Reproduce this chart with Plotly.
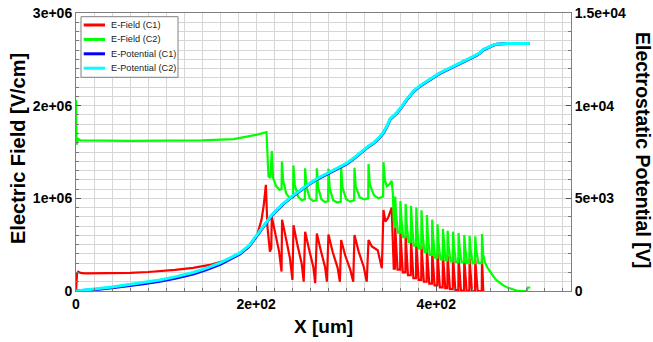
import plotly.graph_objects as go

# ---------------- data ----------------
EFIELD_C1 = [  # (X [um], E [V/cm])
    (0, 0), (1.2, 1.9e5), (2.5, 2.08e5), (5, 1.95e5), (10, 1.9e5), (20, 1.9e5), (40, 1.92e5),
    (60, 1.96e5), (80, 2.05e5), (93, 2.12e5), (110, 2.28e5), (130, 2.5e5), (150, 2.85e5),
    (165, 3.25e5), (178, 3.8e5), (190, 4.6e5), (201, 6.0e5), (206, 7.7e5), (208.5, 9.3e5),
    (210.8, 1.146e6), (212.5, 7.0e5), (215.3, 4.25e5), (216.8, 4.6e5), (217.4, 8.0e5),
    (220.5, 6.4e5), (225.5, 4.25e5), (228.2, 2.1e5), (228.8, 7.7e5), (233.5, 5.5e5),
    (237.5, 3.55e5), (240.3, 1.2e5), (241.5, 7.1e5), (246, 4.9e5), (250.5, 3.0e5),
    (252.8, 1.0e5), (254.4, 6.4e5), (259, 4.4e5), (263.5, 2.6e5), (265.6, 8.5e4),
    (267.4, 6.2e5), (272, 4.3e5), (276.5, 2.6e5), (278.6, 1.0e5), (280.3, 6.1e5),
    (285, 4.2e5), (290.5, 2.5e5), (293.0, 1.0e5), (294.4, 5.5e5), (299, 3.8e5),
    (304.5, 2.3e5), (307.8, 1.0e5), (309.2, 6.05e5), (314, 4.2e5), (319.5, 2.6e5),
    (322.8, 1.0e5), (324.8, 5.5e5), (328.5, 4.8e5), (335, 4.4e5), (339.6, 2.45e5),
    (341.4, 8.75e5), (343.5, 7.5e5), (346.5, 7.9e5), (350.5, 9.0e5), (352.0, 4.5e5),
    (352.8, 2.4e5), (354.1, 2.4e5),
    (354.4, 7.0e5), (357.0, 2.3e5), (359.9, 2.3e5),
    (360.2, 6.4e5), (362.8, 2.0e5), (365.7, 2.0e5),
    (366.0, 6.0e5), (368.6, 1.7e5), (371.7, 1.7e5),
    (372.0, 5.6e5), (374.6, 1.4e5), (377.5, 1.4e5),
    (377.8, 5.2e5), (380.4, 1.2e5), (383.3, 1.2e5),
    (383.6, 4.9e5), (386.2, 1.0e5), (389.3, 1.0e5),
    (389.6, 4.6e5), (392.2, 8e4), (395.2, 8e4),
    (395.5, 4.3e5), (398.1, 6e4), (401.1, 6e4),
    (401.4, 4.1e5), (404.0, 4e4), (407.1, 4e4),
    (407.4, 3.9e5), (410.0, 3e4), (412.3, 3e4),
    (412.6, 3.8e5), (415.2, 2e4), (418.3, 2e4),
    (418.6, 3.7e5), (421.2, 1e4), (424.5, 1e4),
    (424.8, 3.6e5), (427.4, 5e3), (430.8, 5e3),
    (431.1, 3.5e5), (433.7, 0), (436.7, 0),
    (437.0, 3.5e5), (439.6, 0), (443.0, 0),
    (443.3, 3.4e5), (445.9, 0), (450.5, 0),
    (450.8, 3.5e5), (452.2, 0),
]

EFIELD_C2 = [
    (0, 2.06e6), (0.6, 1.58e6), (2.5, 1.64e6), (5, 1.625e6), (60, 1.62e6), (140, 1.625e6),
    (175, 1.64e6), (200, 1.685e6), (211.5, 1.715e6), (213.7, 1.236e6), (215.8, 1.22e6),
    (217.4, 1.51e6), (218.8, 1.222e6), (222, 1.135e6), (226, 1.09e6), (228.2, 1.1e6),
    (228.6, 1.398e6), (230, 1.19e6), (233.5, 1.05e6), (237.5, 1.0e6), (241.0, 1.01e6),
    (241.4, 1.355e6), (242.8, 1.15e6), (246.5, 1.02e6), (250.5, 0.98e6), (254.0, 0.99e6),
    (254.4, 1.325e6), (255.8, 1.13e6), (259.5, 1.0e6), (263.5, 0.97e6), (267.0, 0.98e6),
    (267.4, 1.325e6), (268.8, 1.12e6), (272.5, 0.99e6), (276.5, 0.96e6), (279.9, 0.97e6),
    (280.3, 1.32e6), (281.7, 1.11e6), (285.5, 0.98e6), (290, 0.955e6), (294.0, 0.965e6),
    (294.4, 1.33e6), (295.8, 1.12e6), (300, 0.99e6), (304.5, 0.965e6), (308.8, 0.98e6),
    (309.2, 1.33e6), (310.6, 1.13e6), (315, 1.01e6), (320, 0.99e6), (324.4, 1.0e6),
    (324.8, 1.37e6), (326.2, 1.15e6), (331, 1.03e6), (336, 1.0e6), (341.0, 1.02e6),
    (341.4, 1.39e6), (343, 1.2e6), (345, 1.13e6), (348, 1.15e6), (350.5, 1.19e6),
    (351.8, 1.05e6), (352.8, 7.6e5), (354.1, 6.8e5),
    (354.4, 1.02e6), (355.5, 8.2e5), (357.5, 6.3e5), (359.9, 6.3e5),
    (360.2, 9.7e5), (361.3, 7.7e5), (363.3, 5.8e5), (365.7, 5.8e5),
    (366.0, 9.4e5), (367.1, 7.3e5), (369.2, 5.3e5), (371.7, 5.3e5),
    (372.0, 9.2e5), (373.1, 7.0e5), (375.1, 4.9e5), (377.5, 4.9e5),
    (377.8, 9.0e5), (378.9, 6.7e5), (380.9, 4.6e5), (383.3, 4.6e5),
    (383.6, 8.7e5), (384.7, 6.4e5), (386.8, 4.2e5), (389.3, 4.2e5),
    (389.6, 8.2e5), (390.7, 6.0e5), (392.8, 3.9e5), (395.2, 3.9e5),
    (395.5, 7.7e5), (396.6, 5.7e5), (398.6, 3.6e5), (401.1, 3.6e5),
    (401.4, 7.2e5), (402.5, 5.3e5), (404.6, 3.4e5), (407.1, 3.4e5),
    (407.4, 6.7e5), (408.5, 5.0e5), (410.3, 3.3e5), (412.3, 3.3e5),
    (412.6, 6.5e5), (413.7, 4.9e5), (415.8, 3.2e5), (418.3, 3.2e5),
    (418.6, 6.4e5), (419.7, 4.8e5), (421.9, 3.1e5), (424.5, 3.1e5),
    (424.8, 6.25e5), (425.9, 4.7e5), (428.1, 3.1e5), (430.8, 3.1e5),
    (431.1, 6.05e5), (432.2, 4.6e5), (434.3, 3.0e5), (436.7, 3.0e5),
    (437.0, 5.95e5), (438.1, 4.5e5), (440.4, 3.0e5), (443.0, 3.0e5),
    (443.3, 5.9e5), (444.4, 4.5e5), (446.8, 3.0e5), (450.5, 3.0e5),
    (450.8, 6.15e5), (452.0, 4.0e5), (454.0, 3.1e5), (456.3, 2.6e5), (460, 2.0e5),
    (463.7, 1.55e5), (467, 1.15e5), (471, 8.3e4), (475, 5.8e4), (478.5, 4.0e4),
    (484, 1.8e4), (489.6, 3e3), (494, 0), (500.5, 0), (501.5, 3.8e4), (504.4, 3.8e4),
]

POT_X = [0, 10, 25, 40, 56, 75, 93, 110, 130, 145, 160, 174, 182, 192, 201, 206, 212, 217,
         223, 230, 240, 249, 258, 268, 279, 290, 301, 310, 319, 325, 330, 336, 341, 345, 349,
         356, 362, 367, 375, 382, 390, 397, 404, 412, 420, 428, 438, 445, 449, 452, 458, 463,
         467, 472, 479, 490, 504]
POT_C1 = [0, 30, 100, 180, 270, 390, 520, 680, 920, 1150, 1440, 1790, 2000, 2400, 2990, 3270,
          3720, 4050, 4350, 4690, 5090, 5430, 5730, 6040, 6330, 6600, 6870, 7200, 7590, 7800,
          7950, 8220, 8510, 8840, 9270, 9580, 9950, 10300, 10770, 11050, 11300, 11530, 11740,
          11930, 12110, 12300, 12550, 12720, 12850, 13000, 13160, 13255, 13310, 13338, 13348,
          13348, 13348]
POT_C2 = [0, 40, 130, 220, 324, 450, 595, 760, 1000, 1230, 1514, 1854, 2054, 2450, 3027, 3300,
          3750, 4080, 4378, 4720, 5120, 5459, 5760, 6070, 6362, 6630, 6903, 7230, 7622, 7830,
          7984, 8250, 8540, 8870, 9300, 9605, 9980, 10324, 10800, 11080, 11330, 11560, 11766,
          11960, 12140, 12330, 12578, 12750, 12870, 13027, 13180, 13270, 13320, 13345, 13352,
          13352, 13352]

SERIES_NAMES = ["E-Field (C1)", "E-Field (C2)", "E-Potential (C1)", "E-Potential (C2)"]
SERIES_COLORS = ["#ff0000", "#00ff00", "#0000ff", "#00ffff"]

X_TICKS = [0, 200, 400]
X_TICK_TEXT = ["0", "2e+02", "4e+02"]
Y_TICKS = [0, 1e6, 2e6, 3e6]
Y_TICK_TEXT = ["0", "1e+06", "2e+06", "3e+06"]
Y2_TICKS = [0, 5000, 10000, 15000]
Y2_TICK_TEXT = ["0", "5e+03", "1e+04", "1.5e+04"]

# ---------------- figure ----------------
W, H = 653, 342
ML, MR, MT, MB = 76, 82, 13, 51
PW, PH = W - ML - MR, H - MT - MB
FONT = "Liberation Sans, Arial, sans-serif"


def px_x(px):
    return (px - ML) / PW


def px_y(py):
    return (H - MB - py) / PH


fig = go.Figure()
fig.add_trace(go.Scatter(x=[p[0] for p in EFIELD_C1], y=[p[1] for p in EFIELD_C1],
                         mode="lines", name=SERIES_NAMES[0],
                         line=dict(color=SERIES_COLORS[0], width=2.2)))
fig.add_trace(go.Scatter(x=[p[0] for p in EFIELD_C2], y=[p[1] for p in EFIELD_C2],
                         mode="lines", name=SERIES_NAMES[1],
                         line=dict(color=SERIES_COLORS[1], width=2.2)))
fig.add_trace(go.Scatter(x=POT_X, y=POT_C1, mode="lines", name=SERIES_NAMES[2], yaxis="y2",
                         line=dict(color=SERIES_COLORS[2], width=3)))
fig.add_trace(go.Scatter(x=POT_X, y=POT_C2, mode="lines", name=SERIES_NAMES[3], yaxis="y2",
                         line=dict(color=SERIES_COLORS[3], width=3)))

tickfont = dict(family=FONT, size=14, color="black", weight="bold")
grid = "#d6d6d6"

fig.update_layout(
    width=W, height=H, margin=dict(l=ML, r=MR, t=MT, b=MB, autoexpand=False),
    paper_bgcolor="white", plot_bgcolor="white", showlegend=False,
    xaxis=dict(range=[0, 549.6], tickmode="array", tickvals=X_TICKS, ticktext=X_TICK_TEXT,
               automargin=False,
               showgrid=True, gridcolor=grid, gridwidth=1, zeroline=False,
               showline=True, linecolor="#7f7f7f", linewidth=1, mirror=True,
               ticks="inside", ticklen=5, tickcolor="#555555",
               minor=dict(tick0=0, dtick=20, showgrid=True, gridcolor=grid,
                          ticks="inside", ticklen=3, tickcolor="#777777"),
               tickfont=tickfont),
    yaxis=dict(range=[0, 3e6], tickmode="array", tickvals=Y_TICKS, ticktext=Y_TICK_TEXT,
               automargin=False,
               showgrid=True, gridcolor=grid, gridwidth=1, zeroline=False,
               showline=True, linecolor="#7f7f7f", linewidth=1, mirror=True,
               ticks="inside", ticklen=5, tickcolor="#555555",
               minor=dict(tick0=0, dtick=1e5, showgrid=True, gridcolor=grid,
                          ticks="inside", ticklen=3, tickcolor="#777777"),
               tickfont=tickfont),
    yaxis2=dict(range=[0, 15000], overlaying="y", side="right", tickmode="array",
                automargin=False,
                tickvals=Y2_TICKS, ticktext=Y2_TICK_TEXT, showgrid=False, zeroline=False,
                showline=True, linecolor="#7f7f7f", ticks="inside", ticklen=5,
                tickcolor="#555555",
                minor=dict(tick0=0, dtick=1000, ticks="inside", ticklen=3, tickcolor="#777777"),
                tickfont=tickfont),
)

# axis titles
title_font = dict(family=FONT, size=20, color="black", weight="bold")
fig.add_annotation(text="Electric Field [V/cm]", xref="paper", yref="paper",
                   x=px_x(18), y=px_y(149), textangle=-90, showarrow=False,
                   xanchor="center", yanchor="middle", font=title_font)
fig.add_annotation(text="Electrostatic Potential [V]", xref="paper", yref="paper",
                   x=px_x(643), y=px_y(150), textangle=90, showarrow=False,
                   xanchor="center", yanchor="middle",
                   font=dict(family=FONT, size=19.5, color="black", weight="bold"))
fig.add_annotation(text="X [um]", xref="paper", yref="paper",
                   x=px_x(323), y=px_y(326), showarrow=False,
                   xanchor="center", yanchor="middle",
                   font=dict(family=FONT, size=19, color="black", weight="bold"))

# legend box (drawn manually to match the compact reference legend)
fig.add_shape(type="rect", xref="paper", yref="paper",
              x0=px_x(81), x1=px_x(178), y0=px_y(77.3), y1=px_y(16.7),
              line=dict(color="#808080", width=1), fillcolor="white", layer="above")
legend_rows = [25, 39.4, 53.8, 68.2]
for name, color, py in zip(SERIES_NAMES, SERIES_COLORS, legend_rows):
    fig.add_shape(type="line", xref="paper", yref="paper",
                  x0=px_x(83.7), x1=px_x(105), y0=px_y(py), y1=px_y(py),
                  line=dict(color=color, width=3), layer="above")
    fig.add_annotation(text=name, xref="paper", yref="paper", x=px_x(108.5), y=px_y(py),
                       xanchor="left", yanchor="middle", showarrow=False,
                       font=dict(family=FONT, size=9.2, color="#222222"))

fig.write_html(
    "out.html",
    config={"displayModeBar": False, "responsive": False},
    post_script="document.body.style.margin='0';document.body.style.overflow='hidden';",
)
